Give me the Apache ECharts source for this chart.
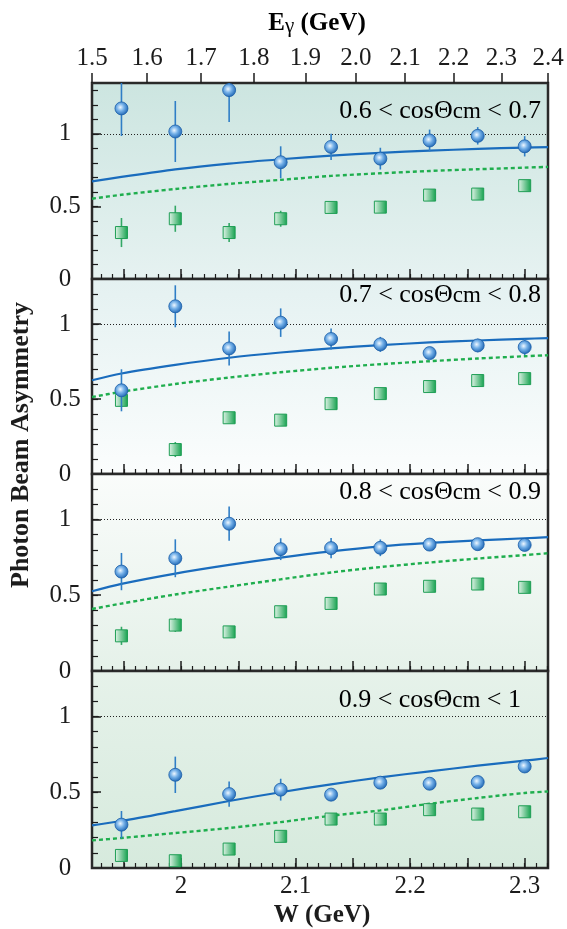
<!DOCTYPE html>
<html>
<head>
<meta charset="utf-8">
<script src="https://cdn.jsdelivr.net/npm/echarts@6/dist/echarts.min.js"></script>
<style>
  html, body { margin: 0; padding: 0; background: #fff; }
  #chart { width: 567px; height: 929px; }
</style>
</head>
<body>
<div id="chart"></div>
<script>
// photon energy ticks on the top axis, W labels on the bottom axis
var eGammaTicks = [1.5, 1.6, 1.7, 1.8, 1.9, 2.0, 2.1, 2.2, 2.3, 2.4];
var wTickLabels = [2.0, 2.1, 2.2, 2.3];
var cosBins = [["0.6", "0.7"], ["0.7", "0.8"], ["0.8", "0.9"], ["0.9", "1"]];

// W of the data points and of the sampled model curves
var wPoints = [1.948, 1.995, 2.042, 2.087, 2.131, 2.174, 2.217, 2.259, 2.300];
var wCurve = [1.9223, 1.948, 1.995, 2.042, 2.087, 2.131, 2.174, 2.217, 2.259, 2.300, 2.3204];

// 0.6 < cos < 0.7
var circ1 = [1.175, 1.016, 1.301, 0.804, 0.910, 0.829, 0.954, 0.986, 0.914];
var circ1Err = [0.19, 0.21, 0.22, 0.11, 0.09, 0.075, 0.075, 0.06, 0.07];
var sq1 = [0.320, 0.415, 0.320, 0.415, 0.493, 0.495, 0.578, 0.585, 0.643];
var sq1Err = [0.10, 0.09, 0.065, 0.055, 0.02, 0.02, 0.02, 0.02, 0.02];
var solid1 = [0.672, 0.703, 0.755, 0.795, 0.825, 0.850, 0.869, 0.884, 0.896, 0.905, 0.908];
var dashed1 = [0.553, 0.580, 0.620, 0.655, 0.683, 0.710, 0.728, 0.744, 0.756, 0.767, 0.772];

// 0.7 < cos < 0.8
var circ2 = [0.558, 1.118, 0.837, 1.009, 0.900, 0.864, 0.806, 0.857, 0.846];
var circ2Err = [0.14, 0.14, 0.113, 0.095, 0.07, 0.05, 0.03, 0.045, 0.053];
var sq2 = [0.491, 0.163, 0.375, 0.359, 0.469, 0.536, 0.583, 0.623, 0.636];
var sq2Err = [0.03, 0.05, 0.03, 0.02, 0.02, 0.02, 0.02, 0.02, 0.02];
var solid2 = [0.625, 0.670, 0.727, 0.775, 0.810, 0.838, 0.859, 0.877, 0.890, 0.901, 0.906];
var dashed2 = [0.513, 0.548, 0.600, 0.643, 0.678, 0.708, 0.732, 0.752, 0.770, 0.785, 0.792];

// 0.8 < cos < 0.9
var circ3 = [0.656, 0.744, 0.972, 0.804, 0.811, 0.813, 0.834, 0.837, 0.832];
var circ3Err = [0.123, 0.125, 0.113, 0.072, 0.067, 0.055, 0.04, 0.04, 0.04];
var sq3 = [0.232, 0.303, 0.258, 0.391, 0.446, 0.541, 0.559, 0.574, 0.552];
var sq3Err = [0.06, 0.045, 0.03, 0.02, 0.02, 0.02, 0.02, 0.02, 0.02];
var solid3 = [0.526, 0.575, 0.643, 0.700, 0.748, 0.789, 0.822, 0.845, 0.862, 0.876, 0.883];
var dashed3 = [0.409, 0.445, 0.505, 0.557, 0.605, 0.650, 0.686, 0.716, 0.742, 0.765, 0.777];

// 0.9 < cos < 1
var circ4 = [0.286, 0.615, 0.488, 0.517, 0.484, 0.563, 0.556, 0.567, 0.670];
var circ4Err = [0.09, 0.12, 0.083, 0.072, 0.03, 0.03, 0.025, 0.025, 0.03];
var sq4 = [0.083, 0.048, 0.125, 0.209, 0.323, 0.323, 0.385, 0.356, 0.371];
var sq4Err = [0.03, 0.02, 0.02, 0.02, 0.02, 0.02, 0.02, 0.02, 0.02];
var solid4 = [0.281, 0.310, 0.375, 0.442, 0.500, 0.552, 0.598, 0.638, 0.675, 0.708, 0.726];
var dashed4 = [0.182, 0.198, 0.231, 0.264, 0.303, 0.345, 0.380, 0.424, 0.462, 0.495, 0.505];

var MP = 0.938272;
function wOf(e) { return Math.sqrt(MP * MP + 2 * MP * e); }
function eOf(w) { return (w * w - MP * MP) / (2 * MP); }
var W_MIN = wOf(eGammaTicks[0]);
var W_MAX = wOf(eGammaTicks[eGammaTicks.length - 1]);

var panels = [
  { circ: circ1, circErr: circ1Err, sq: sq1, sqErr: sq1Err, solid: solid1, dashed: dashed1 },
  { circ: circ2, circErr: circ2Err, sq: sq2, sqErr: sq2Err, solid: solid2, dashed: dashed2 },
  { circ: circ3, circErr: circ3Err, sq: sq3, sqErr: sq3Err, solid: solid3, dashed: dashed3 },
  { circ: circ4, circErr: circ4Err, sq: sq4, sqErr: sq4Err, solid: solid4, dashed: dashed4 }
];

var gridTops = [83, 279, 474, 671];
var gridHeights = [196, 195, 197, 197];
var yMaxes = [1.35, 1.3, 1.3, 1.3];
var bgColors = [
  ["#cce5e0", "#e6f2f1"],
  ["#e4f1f1", "#fbfdfd"],
  ["#fafcfb", "#e5f1e9"],
  ["#e6f2ea", "#d6eadd"]
];
var noteTops = [98, 282, 479, 687];
var noteRight = [541, 541, 541, 521];

var SERIF = "Liberation Serif";
var INK = "#1c1c1c";

var majorW = [], minorW = [];
for (var k = 39; k <= 46; k++) majorW.push(k * 5 / 100);
for (var k2 = 193; k2 <= 232; k2++) minorW.push(k2 / 100);

function errBar(color) {
  return function (params, api) {
    var a = api.coord([api.value(0), api.value(1)]);
    var b = api.coord([api.value(0), api.value(2)]);
    return {
      type: "line",
      shape: { x1: a[0], y1: a[1], x2: b[0], y2: b[1] },
      style: { stroke: color, lineWidth: 1.6 }
    };
  };
}

var circleFill = new echarts.graphic.RadialGradient(0.42, 0.42, 0.6, [
  { offset: 0, color: "#eef7ff" },
  { offset: 0.45, color: "#74b0e8" },
  { offset: 1, color: "#1c64b2" }
]);
var squareFill = new echarts.graphic.LinearGradient(0, 0, 1, 0, [
  { offset: 0, color: "#e4f5ea" },
  { offset: 1, color: "#12a04c" }
]);

var grids = [], xAxes = [], yAxes = [], series = [], graphics = [];

panels.forEach(function (p, i) {
  grids.push({
    left: 92, right: 19, top: gridTops[i], height: gridHeights[i],
    show: true, borderColor: "#2a2a2a", borderWidth: 2.5,
    backgroundColor: new echarts.graphic.LinearGradient(0, 0, 0, 1, [
      { offset: 0, color: bgColors[i][0] },
      { offset: 1, color: bgColors[i][1] }
    ])
  });

  // major W ticks (with labels on the last panel)
  xAxes.push({
    type: "value", gridIndex: i, position: "bottom", min: W_MIN, max: W_MAX,
    axisLine: { show: false }, splitLine: { show: false },
    axisTick: { inside: true, length: 10, customValues: majorW, lineStyle: { color: INK, width: 1.5 } },
    axisLabel: {
      show: i === 3, customValues: wTickLabels, margin: 6,
      fontFamily: SERIF, fontSize: 25, color: INK,
      formatter: function (v) { return String(Math.round(v * 10) / 10); }
    }
  });
  // minor W ticks
  xAxes.push({
    type: "value", gridIndex: i, position: "bottom", min: W_MIN, max: W_MAX,
    axisLine: { show: false }, splitLine: { show: false },
    axisTick: { inside: true, length: 5, customValues: minorW, lineStyle: { color: INK, width: 1.2 } },
    axisLabel: { show: false }
  });

  var minorY = [];
  for (var t = 1; t * 0.1 < yMaxes[i]; t++) minorY.push(Math.round(t) / 10);
  yAxes.push({
    type: "value", gridIndex: i, position: "left", min: 0, max: yMaxes[i],
    axisLine: { show: false }, splitLine: { show: false },
    axisTick: { inside: true, length: 6, customValues: minorY, lineStyle: { color: INK, width: 1.2 } },
    axisLabel: {
      customValues: [0, 0.5, 1], align: "center", margin: 27,
      fontFamily: SERIF, fontSize: 25, color: INK
    }
  });
  yAxes.push({
    type: "value", gridIndex: i, position: "left", min: 0, max: yMaxes[i],
    axisLine: { show: false }, splitLine: { show: false },
    axisTick: { inside: true, length: 9, customValues: [0.5, 1], lineStyle: { color: INK, width: 1.5 } },
    axisLabel: { show: false }
  });

  var xi = 2 * i, yi = 2 * i;

  series.push({
    type: "line", xAxisIndex: xi, yAxisIndex: yi, z: 2,
    data: wCurve.map(function (w, j) { return [w, p.dashed[j]]; }),
    smooth: 0.3, showSymbol: false, silent: true,
    lineStyle: { color: "#1fae4e", width: 2.4, type: [4, 3] }
  });
  series.push({
    type: "line", xAxisIndex: xi, yAxisIndex: yi, z: 2,
    data: wCurve.map(function (w, j) { return [w, p.solid[j]]; }),
    smooth: 0.3, showSymbol: false, silent: true,
    lineStyle: { color: "#1a6cbd", width: 2.2 },
    markLine: {
      silent: true, symbol: "none", label: { show: false },
      lineStyle: { color: "#222", width: 1, type: [1, 2] },
      data: [{ yAxis: 1 }]
    }
  });
  series.push({
    type: "custom", xAxisIndex: xi, yAxisIndex: yi, z: 3, clip: true,
    renderItem: errBar("#33a865"),
    encode: { x: 0, y: [1, 2] },
    data: wPoints.map(function (w, j) { return [w, p.sq[j] - p.sqErr[j], p.sq[j] + p.sqErr[j]]; })
  });
  series.push({
    type: "scatter", xAxisIndex: xi, yAxisIndex: yi, z: 4,
    symbol: "rect", symbolSize: 12,
    itemStyle: { color: squareFill, borderColor: "#1f9e55", borderWidth: 1, opacity: 1 },
    data: wPoints.map(function (w, j) { return [w, p.sq[j]]; })
  });
  series.push({
    type: "custom", xAxisIndex: xi, yAxisIndex: yi, z: 5, clip: true,
    renderItem: errBar("#2f7ec6"),
    encode: { x: 0, y: [1, 2] },
    data: wPoints.map(function (w, j) { return [w, p.circ[j] - p.circErr[j], p.circ[j] + p.circErr[j]]; })
  });
  series.push({
    type: "scatter", xAxisIndex: xi, yAxisIndex: yi, z: 6,
    symbol: "circle", symbolSize: 13,
    itemStyle: { color: circleFill, borderColor: "#1b5ea8", borderWidth: 0.8, opacity: 1 },
    data: wPoints.map(function (w, j) { return [w, p.circ[j]]; })
  });

  graphics.push({
    type: "text", x: noteRight[i], y: noteTops[i] + 13, z: 100,
    style: {
      text: "{a|" + cosBins[i][0] + " < cosΘ}{b|cm}{a| < " + cosBins[i][1] + "}",
      align: "right", verticalAlign: "middle",
      rich: {
        a: { fontFamily: SERIF, fontSize: 26, color: INK },
        b: { fontFamily: SERIF, fontSize: 23, color: INK, padding: [2, 0, 0, 0] }
      }
    }
  });
});

// top photon-energy axis, placed at the W of each E value
xAxes.push({
  type: "value", gridIndex: 0, position: "top", min: W_MIN, max: W_MAX,
  axisLine: { show: false }, splitLine: { show: false },
  axisTick: { inside: false, length: 10, customValues: eGammaTicks.map(wOf), lineStyle: { color: INK, width: 1.5 } },
  axisLabel: {
    customValues: eGammaTicks.map(wOf), margin: 12,
    fontFamily: SERIF, fontSize: 25, color: INK,
    formatter: function (v) { return eOf(v).toFixed(1); }
  }
});

graphics.push({
  type: "text", x: 317, y: 24,
  style: {
    text: "{b|E}{g|γ}{b| (GeV)}", align: "center", verticalAlign: "middle",
    rich: {
      b: { fontFamily: SERIF, fontSize: 25, fontWeight: "bold", color: INK },
      g: { fontFamily: SERIF, fontSize: 21, color: INK, padding: [4, 0, 0, 0] }
    }
  }
});
graphics.push({
  type: "text", x: 322, y: 916,
  style: {
    text: "W (GeV)", align: "center", verticalAlign: "middle",
    fontFamily: SERIF, fontSize: 25, fontWeight: "bold", fill: INK
  }
});
graphics.push({
  type: "text", x: 21, y: 445, rotation: Math.PI / 2,
  style: {
    text: "Photon Beam Asymmetry", align: "center", verticalAlign: "middle",
    fontFamily: SERIF, fontSize: 26, fontWeight: "bold", fill: INK
  }
});

var myChart = echarts.init(document.getElementById("chart"));
myChart.setOption({
  animation: false,
  backgroundColor: "#fff",
  grid: grids,
  xAxis: xAxes,
  yAxis: yAxes,
  series: series,
  graphic: graphics
});
</script>
</body>
</html>
